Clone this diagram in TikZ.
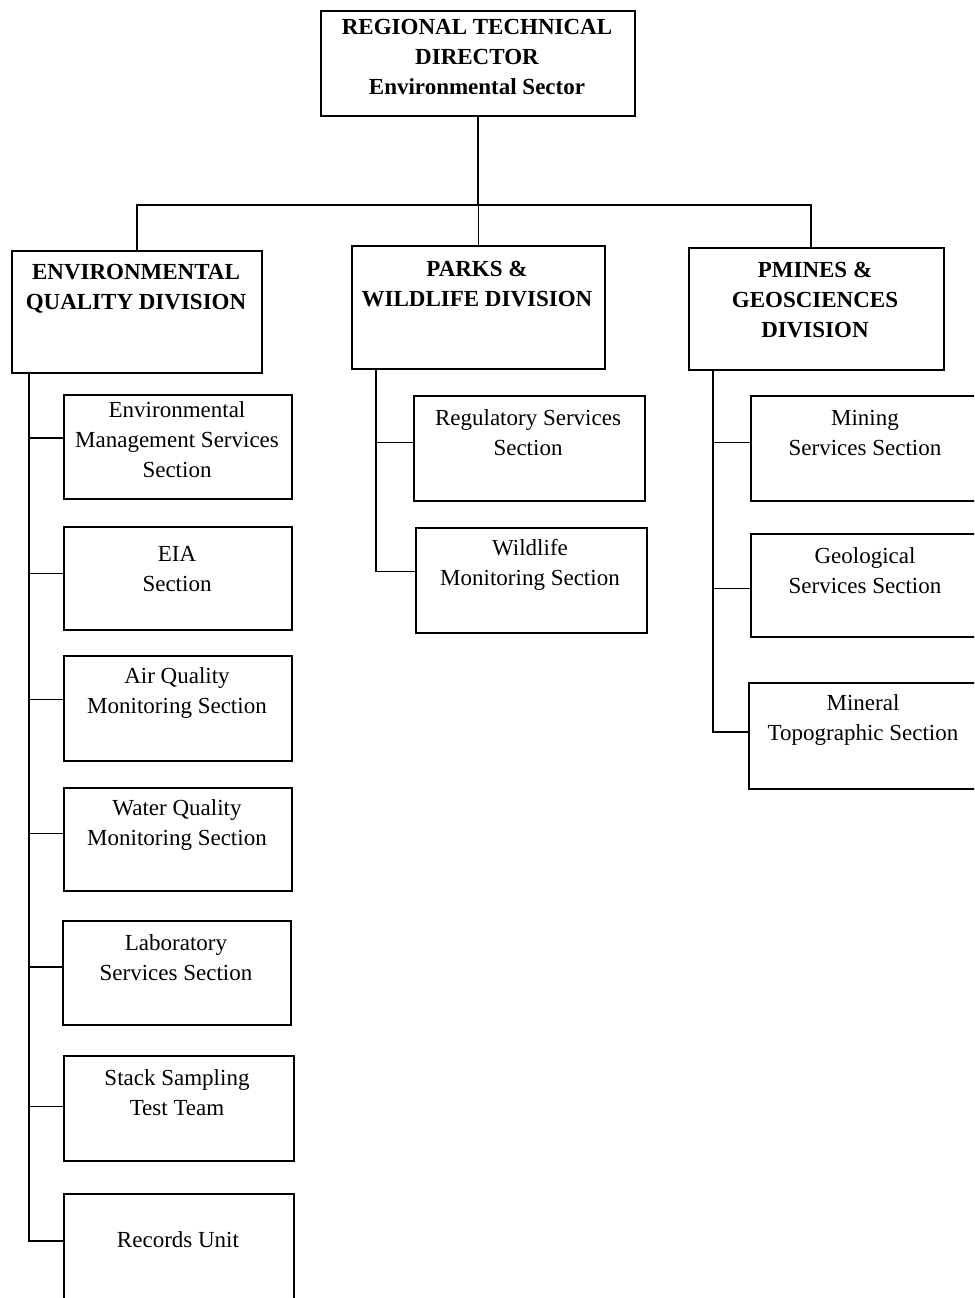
\documentclass[tikz,border=0pt]{standalone}
\usepackage{fontspec}
\setmainfont{Liberation Serif}
\begin{document}
\begin{tikzpicture}[x=0.75pt, y=-0.75pt,
  box/.style={draw, line width=1.2pt, inner sep=0pt, anchor=north west},
  txt/.style={align=center, inner sep=0pt, font=\fontsize{17.25}{22.5}\selectfont},
  head/.style={txt, font=\fontsize{17.25}{22.5}\selectfont\bfseries},
  link/.style={line width=1.2pt}]
\clip (0,0) rectangle (974,1298);
\fill[white] (0,0) rectangle (974,1298);

% director
\node[box, minimum width=314*0.75pt, minimum height=105*0.75pt] (rtd) at (320,10) {};
\node[head] (rtdt) at (477,57) {REGIONAL TECHNICAL\\DIRECTOR\\Environmental Sector};

% divisions
\node[box, minimum width=250*0.75pt, minimum height=122*0.75pt] (eqd) at (11,250) {};
\node[head] (eqdt) at (136,289) {ENVIRONMENTAL\\QUALITY DIVISION};
\node[box, minimum width=253*0.75pt, minimum height=123*0.75pt] (pwd) at (351,245) {};
\node[head] (pwdt) at (477,284) {PARKS \&\\WILDLIFE DIVISION};
\node[box, minimum width=255*0.75pt, minimum height=122*0.75pt] (pmg) at (688,247) {};
\node[head] (pmgt) at (815,300) {PMINES \&\\GEOSCIENCES\\DIVISION};

% environmental quality sections
\node[box, minimum width=228*0.75pt, minimum height=104*0.75pt] (e1) at (63,394) {};
\node[txt] (e1t) at (177,440) {Environmental\\Management Services\\Section};
\node[box, minimum width=228*0.75pt, minimum height=103*0.75pt] (e2) at (63,526) {};
\node[txt] (e2t) at (177,569) {EIA\\Section};
\node[box, minimum width=228*0.75pt, minimum height=105*0.75pt] (e3) at (63,655) {};
\node[txt] (e3t) at (177,693) {Air Quality\\Monitoring Section};
\node[box, minimum width=228*0.75pt, minimum height=103*0.75pt] (e4) at (63,787) {};
\node[txt] (e4t) at (177,825) {Water Quality\\Monitoring Section};
\node[box, minimum width=228*0.75pt, minimum height=104*0.75pt] (e5) at (62,920) {};
\node[txt] (e5t) at (176,958) {Laboratory\\Services Section};
\node[box, minimum width=230*0.75pt, minimum height=105*0.75pt] (e6) at (63,1055) {};
\node[txt] (e6t) at (177,1093) {Stack Sampling\\Test Team};
\node[box, minimum width=230*0.75pt, minimum height=150*0.75pt] (e7) at (63,1193) {};
\node[txt] (e7t) at (178,1240) {Records Unit};

% parks and wildlife sections
\node[box, minimum width=231*0.75pt, minimum height=105*0.75pt] (p1) at (413,395) {};
\node[txt] (p1t) at (528,433) {Regulatory Services\\Section};
\node[box, minimum width=231*0.75pt, minimum height=105*0.75pt] (p2) at (415,527) {};
\node[txt] (p2t) at (530,565) {Wildlife\\Monitoring Section};

% mines and geosciences sections
\node[box, minimum width=232*0.75pt, minimum height=105*0.75pt] (m1) at (750,395) {};
\node[txt] (m1t) at (865,433) {Mining\\Services Section};
\node[box, minimum width=232*0.75pt, minimum height=103*0.75pt] (m2) at (750,533) {};
\node[txt] (m2t) at (865,571) {Geological\\Services Section};
\node[box, minimum width=234*0.75pt, minimum height=106*0.75pt] (m3) at (748,682) {};
\node[txt] (m3t) at (863,720) {Mineral\\Topographic Section};

% bus and trunk positions
\coordinate (bus) at (476,205);
\coordinate (tq) at (29,0);
\coordinate (tp) at (376,0);
\coordinate (tm) at (713,0);

% director to divisions
\draw[link] (rtd.south) -- (rtd.south |- bus);
\draw[link] (eqd.north) -- (eqd.north |- bus)
  -- ([xshift=-4pt]pmg.north |- bus) -- ([xshift=-4pt]pmg.north);
\draw[link] (pwd.north |- bus) -- (pwd.north);

% divisions to sections
\foreach \c/\s in {e1/9, e2/5, e3/9, e4/6, e5/6, e6/2, e7/28}
  \draw[link] (eqd.south -| tq) |- ([yshift=\s*0.75pt]\c.west);
\foreach \c/\s in {p1/6, p2/9}
  \draw[link] (pwd.south -| tp) |- ([yshift=\s*0.75pt]\c.west);
\foreach \c/\s in {m1/6, m2/-3, m3/4}
  \draw[link] (pmg.south -| tm) |- ([yshift=\s*0.75pt]\c.west);
\end{tikzpicture}
\end{document}
